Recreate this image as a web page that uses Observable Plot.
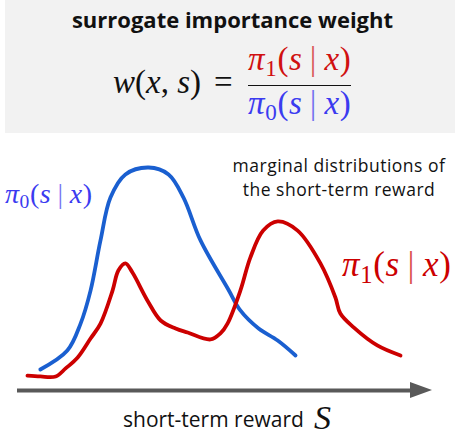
<!DOCTYPE html>
<html>
<head>
<meta charset="utf-8">
<script src="https://cdn.jsdelivr.net/npm/d3@7"></script>
<script src="https://cdn.jsdelivr.net/npm/@observablehq/plot@0.6"></script>
<style>
  html, body { margin: 0; padding: 0; background: white; }
  #wrap { position: relative; width: 455px; height: 437px; overflow: hidden; }
  #box { position: absolute; left: 5px; top: 0; width: 450px; height: 133px; background: #f2f2f2; }
  .abs { position: absolute; white-space: nowrap; line-height: 1; }
  .m { font-family: "Liberation Serif", "DejaVu Serif", serif; }
  .i { font-style: italic; }
  .sans { font-family: "Open Sans", "Noto Sans", sans-serif; }
  sub { font-size: 0.7em; vertical-align: -0.28em; font-style: normal; line-height: 0; }
  .bar { display: inline-block; font-style: normal; margin: 0 0.22em; opacity: 0.7; }
  .pi { letter-spacing: 0.02em; }
  #plot { position: absolute; left: 0; top: 0; }
</style>
</head>
<body>
<div id="wrap">
  <div id="box"></div>
  <div id="plot"></div>
</div>
<script>
// short-term reward s (x) and marginal densities (y)
const blueS = [0.55, 1.2, 1.52, 1.76, 2.0, 2.24, 2.6, 3.16, 3.64, 4.0, 4.41, 5.08, 5.37, 5.81, 6.27, 6.7];
const blueD = [0.094, 0.179, 0.30, 0.448, 0.673, 0.865, 0.969, 1.0, 0.969, 0.865, 0.673, 0.453, 0.359, 0.278, 0.224, 0.157];
const redS = [0.24, 0.55, 0.92, 1.16, 1.45, 1.76, 2.0, 2.29, 2.43, 2.6, 2.77, 3.13, 3.45, 3.81, 4.10, 4.65, 4.89, 5.06, 5.37, 5.61, 5.92, 6.27, 6.75, 7.30, 7.66, 7.78, 8.10, 8.67, 9.23];
const redD = [0.067, 0.063, 0.063, 0.099, 0.148, 0.233, 0.30, 0.448, 0.538, 0.570, 0.529, 0.404, 0.314, 0.278, 0.260, 0.229, 0.256, 0.30, 0.448, 0.596, 0.717, 0.758, 0.717, 0.570, 0.417, 0.345, 0.283, 0.202, 0.157];
// axis arrow (in s units)
const axisStart = 0, axisHeadBase = 9.47, axisEnd = 10, headHalf = 0.036;

const texts = {
  title: "surrogate importance weight",
  note1: "marginal distributions of",
  note2: "the short-term reward",
  axis: "short-term reward",
  axisVar: "S"
};

const blue = blueS.map((s, i) => ({s, d: blueD[i]}));
const red = redS.map((s, i) => ({s, d: redD[i]}));
const head = [
  {s: axisHeadBase, y1: -headHalf, y2: headHalf},
  {s: axisEnd, y1: 0, y2: 0}
];

const chart = Plot.plot({
  width: 455,
  height: 437,
  style: {background: "transparent"},
  x: {domain: [0, 10], range: [17, 432], axis: null},
  y: {domain: [0, 1], range: [390, 167], axis: null},
  marks: [
    Plot.ruleY([0], {x1: axisStart, x2: axisHeadBase + 0.05, stroke: "#595959", strokeWidth: 4}),
    Plot.areaY(head, {x: "s", y1: "y1", y2: "y2", fill: "#595959"}),
    Plot.line(blue, {x: "s", y: "d", stroke: "#1a5fd0", strokeWidth: 3.8, curve: "catmull-rom", strokeLinecap: "round"}),
    Plot.line(red, {x: "s", y: "d", stroke: "#cc0000", strokeWidth: 3.8, curve: "catmull-rom", strokeLinecap: "round"})
  ]
});
document.getElementById("plot").appendChild(chart);

// annotations
const wrap = document.getElementById("wrap");
function add(html, cls, style) {
  const el = document.createElement("div");
  el.className = "abs " + cls;
  el.innerHTML = html;
  Object.assign(el.style, style);
  wrap.appendChild(el);
  return el;
}
const pi = (n, c) => `<span class="pi" style="color:${c}"><span class="i">π</span><sub>${n}</sub>(<span class="i">s</span><span class="bar">|</span><span class="i">x</span>)</span>`;

add(texts.title, "sans", {left: "0", width: "465px", textAlign: "center", top: "8px", fontSize: "22px", fontWeight: "700", color: "#111"});
add(`<span class="i">w</span>(<span class="i">x</span>, <span class="i">s</span>)`, "m", {left: "113px", top: "66px", fontSize: "33px", color: "#111"});
add("=", "m", {left: "214px", top: "66px", fontSize: "33px", color: "#111"});
add(pi(1, "#d01010"), "m", {left: "248px", top: "43px", fontSize: "33px"});
add(pi(0, "#3b3bf0"), "m", {left: "248px", top: "87px", fontSize: "33px"});
add("", "", {left: "248px", top: "84.5px", width: "103px", height: "1.5px", background: "#111"});

add(pi(0, "#3b3bf0"), "m", {left: "5px", top: "180px", fontSize: "28px"});
add(pi(1, "#cc0000"), "m", {left: "342px", top: "247px", fontSize: "35px"});

add(texts.note1, "sans", {left: "227px", width: "224px", textAlign: "center", top: "156.5px", fontSize: "17.5px", letterSpacing: "0.5px", color: "#111"});
add(texts.note2, "sans", {left: "227px", width: "224px", textAlign: "center", top: "180.5px", fontSize: "17.5px", letterSpacing: "0.5px", color: "#111"});
add(texts.axis, "sans", {left: "123px", top: "409px", fontSize: "21px", color: "#111"});
add(`<span class="i">${texts.axisVar}</span>`, "m", {left: "314px", top: "403px", fontSize: "34px", lineHeight: "0.9", paddingRight: "6px", color: "#111"});
</script>
</body>
</html>
